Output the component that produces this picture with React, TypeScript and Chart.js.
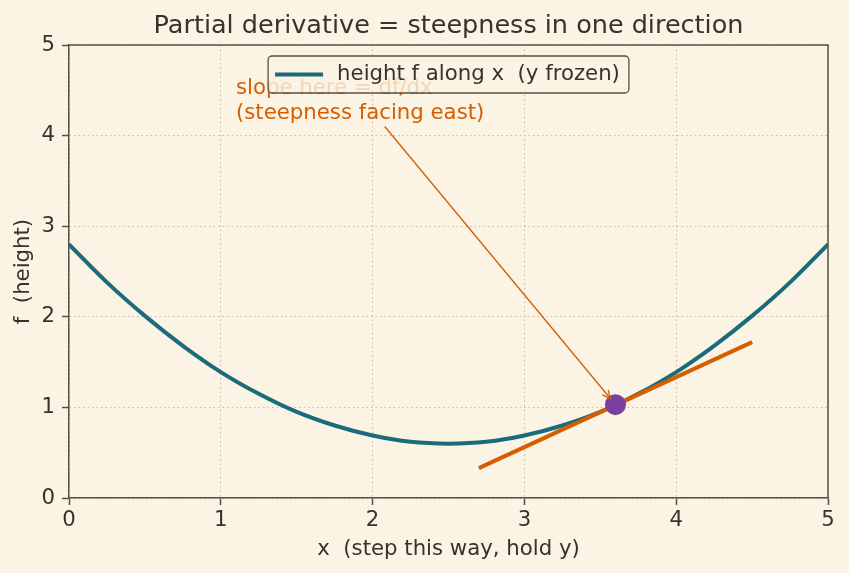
import React, { useEffect, useRef } from "react";
import { Chart, registerables } from "chart.js";

Chart.register(...registerables);

// ---- data ----
const xs = [0, 0.25, 0.5, 0.75, 1.0, 1.25, 1.5, 1.75, 2.0, 2.25, 2.5, 2.75, 3.0, 3.25, 3.5, 3.75, 4.0, 4.25, 4.5, 4.75, 5.0];
const fs = [2.8, 2.38, 2.01, 1.68, 1.39, 1.15, 0.95, 0.8, 0.69, 0.62, 0.6, 0.62, 0.69, 0.8, 0.95, 1.15, 1.39, 1.68, 2.01, 2.38, 2.8];
const tangentX = [2.7, 4.5];
const tangentY = [0.33, 1.72];
const pointX = [3.6];
const pointY = [1.03];
const xTicks = [0, 1, 2, 3, 4, 5];
const yTicks = [0, 1, 2, 3, 4, 5];
const annotLines = ["slope here = df/dx", "(steepness facing east)"];
const annotPos = [1.1, 4.52];
const arrowFrom = [2.08, 4.1];
const arrowTo = [3.6, 1.03];

const TITLE = "Partial derivative = steepness in one direction";
const X_LABEL = "x  (step this way, hold y)";
const Y_LABEL = "f  (height)";
const SERIES_LABEL = "height f along x  (y frozen)";

const BG = "#fbf3e4";
const TEXT = "#3b3129";
const SPINE = "#5b4f43";
const GRID = "#c4baac";
const TEAL = "#1b6b7a";
const ORANGE = "#d55e00";
const PURPLE = "#7b3fa0";
const FONT = "'DejaVu Sans', sans-serif";
const FS = 21.25;

export default function App() {
  const ref = useRef<HTMLCanvasElement | null>(null);

  useEffect(() => {
    document.body.style.margin = "0";
    document.body.style.background = BG;
    const canvas = ref.current;
    if (!canvas) return;

    const bgPlugin = {
      id: "bg",
      beforeDraw(chart: any) {
        const ctx = chart.ctx;
        ctx.save();
        ctx.fillStyle = BG;
        ctx.fillRect(0, 0, chart.width, chart.height);
        ctx.restore();
      },
    };

    const spinePlugin = {
      id: "spines",
      beforeDatasetsDraw(chart: any) {
        const { ctx, chartArea: a } = chart;
        ctx.save();
        ctx.strokeStyle = SPINE;
        ctx.lineWidth = 1.5;
        ctx.beginPath();
        ctx.moveTo(a.left, a.top);
        ctx.lineTo(a.right, a.top);
        ctx.lineTo(a.right, a.bottom);
        ctx.stroke();
        ctx.restore();
      },
    };

    const annotPlugin = {
      id: "annot",
      afterDatasetsDraw(chart: any) {
        const { ctx } = chart;
        const sx = chart.scales.x;
        const sy = chart.scales.y;
        ctx.save();
        const x0 = sx.getPixelForValue(arrowFrom[0]);
        const y0 = sy.getPixelForValue(arrowFrom[1]);
        const xc = sx.getPixelForValue(arrowTo[0]);
        const yc = sy.getPixelForValue(arrowTo[1]);
        const dx = xc - x0;
        const dy = yc - y0;
        const len = Math.hypot(dx, dy);
        const ux = dx / len;
        const uy = dy / len;
        const x1 = xc - ux * 8;
        const y1 = yc - uy * 8;
        ctx.strokeStyle = ORANGE;
        ctx.lineWidth = 1.3;
        ctx.beginPath();
        ctx.moveTo(x0, y0);
        ctx.lineTo(x1, y1);
        ctx.stroke();
        const ang = Math.atan2(uy, ux);
        const hl = 9;
        const ha = 0.45;
        ctx.beginPath();
        ctx.moveTo(x1 - hl * Math.cos(ang - ha), y1 - hl * Math.sin(ang - ha));
        ctx.lineTo(x1, y1);
        ctx.lineTo(x1 - hl * Math.cos(ang + ha), y1 - hl * Math.sin(ang + ha));
        ctx.stroke();
        ctx.fillStyle = ORANGE;
        ctx.font = `${FS}px ${FONT}`;
        ctx.textAlign = "left";
        ctx.textBaseline = "middle";
        const tx = sx.getPixelForValue(annotPos[0]);
        const ty = sy.getPixelForValue(annotPos[1]);
        annotLines.forEach((l, i) => ctx.fillText(l, tx, ty + i * 24.5));
        ctx.restore();
      },
    };

    const legendPlugin = {
      id: "customLegend",
      afterDraw(chart: any) {
        const { ctx, chartArea: a } = chart;
        const label = chart.data.datasets[0].label;
        ctx.save();
        ctx.font = `${FS}px ${FONT}`;
        const tw = ctx.measureText(label).width;
        const w = 7 + 48 + 14 + tw + 9;
        const h = 37;
        const left = (a.left + a.right) / 2 - w / 2;
        const top = a.top + 11;
        const r = 4;
        ctx.beginPath();
        ctx.moveTo(left + r, top);
        ctx.lineTo(left + w - r, top);
        ctx.arcTo(left + w, top, left + w, top + r, r);
        ctx.lineTo(left + w, top + h - r);
        ctx.arcTo(left + w, top + h, left + w - r, top + h, r);
        ctx.lineTo(left + r, top + h);
        ctx.arcTo(left, top + h, left, top + h - r, r);
        ctx.lineTo(left, top + r);
        ctx.arcTo(left, top, left + r, top, r);
        ctx.closePath();
        ctx.fillStyle = "rgba(251,243,228,0.8)";
        ctx.fill();
        ctx.strokeStyle = SPINE;
        ctx.lineWidth = 1.3;
        ctx.stroke();
        const cy = top + h / 2;
        ctx.strokeStyle = TEAL;
        ctx.lineWidth = 4;
        ctx.beginPath();
        ctx.moveTo(left + 7, cy);
        ctx.lineTo(left + 55, cy);
        ctx.stroke();
        ctx.fillStyle = TEXT;
        ctx.textAlign = "left";
        ctx.textBaseline = "middle";
        ctx.fillText(label, left + 69, cy);
        ctx.restore();
      },
    };

    const axisCommon = (ticks: number[]) => ({
      type: "linear" as const,
      min: ticks[0],
      max: ticks[ticks.length - 1],
      afterBuildTicks(scale: any) {
        scale.ticks = ticks.map((v) => ({ value: v }));
      },
      grid: {
        color: GRID,
        lineWidth: 1,
        drawTicks: true,
        tickLength: 7,
        tickColor: SPINE,
        tickWidth: 1.5,
        tickBorderDash: [],
      },
      border: { color: SPINE, width: 1.5, dash: [1.5, 3] },
    });

    const chart = new Chart(canvas, {
      type: "scatter",
      data: {
        datasets: [
          {
            label: SERIES_LABEL,
            data: xs.map((x, i) => ({ x, y: fs[i] })),
            showLine: true,
            borderColor: TEAL,
            backgroundColor: TEAL,
            borderWidth: 4,
            pointRadius: 0,
            tension: 0.4,
            order: 3,
          },
          {
            label: "tangent",
            data: tangentX.map((x, i) => ({ x, y: tangentY[i] })),
            showLine: true,
            borderColor: ORANGE,
            backgroundColor: ORANGE,
            borderWidth: 4,
            pointRadius: 0,
            order: 2,
          },
          {
            label: "point",
            data: pointX.map((x, i) => ({ x, y: pointY[i] })),
            pointRadius: 10.5,
            pointBackgroundColor: PURPLE,
            pointBorderWidth: 0,
            borderWidth: 0,
            order: 1,
          },
        ],
      },
      options: {
        responsive: false,
        animation: false,
        devicePixelRatio: 1,
        layout: { padding: { left: 0, right: 21, top: 0, bottom: 0 } },
        plugins: {
          legend: { display: false },
          tooltip: { enabled: false },
          title: {
            display: true,
            fullSize: false,
            text: TITLE,
            color: TEXT,
            font: { family: FONT, size: 25.5, weight: "normal" },
            padding: { top: 10.6, bottom: 3.8 },
          },
        },
        scales: {
          x: {
            ...axisCommon(xTicks),
            position: "bottom",
            afterFit(scale: any) {
              scale.height = 75;
            },
            ticks: { color: TEXT, font: { family: FONT, size: FS }, padding: 3, maxRotation: 0 },
            title: {
              display: true,
              text: X_LABEL,
              color: TEXT,
              font: { family: FONT, size: FS },
              padding: { top: 0, bottom: 10.5 },
            },
          },
          y: {
            ...axisCommon(yTicks),
            position: "left",
            afterFit(scale: any) {
              scale.width = 69;
            },
            ticks: { color: TEXT, font: { family: FONT, size: FS }, padding: 7 },
            title: {
              display: true,
              text: Y_LABEL,
              color: TEXT,
              font: { family: FONT, size: FS },
              padding: { top: 11, bottom: 0 },
            },
          },
        },
      },
      plugins: [bgPlugin, spinePlugin, annotPlugin, legendPlugin],
    });

    return () => chart.destroy();
  }, []);

  return (
    <div style={{ width: 849, height: 573, background: BG }}>
      <canvas ref={ref} width={849} height={573} style={{ display: "block" }} />
    </div>
  );
}
